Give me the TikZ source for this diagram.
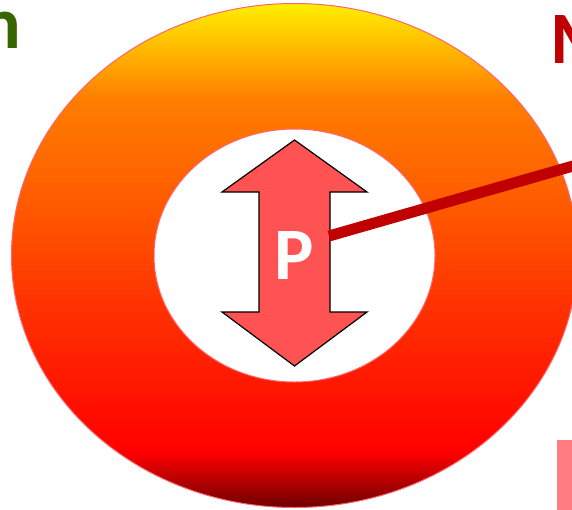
\documentclass[tikz,border=0pt]{standalone}
\usepackage{fontspec}
\setmainfont{Carlito}
\definecolor{ringyel}{RGB}{255,240,0}
\definecolor{ringgold}{RGB}{255,195,0}
\definecolor{ringor}{RGB}{255,125,0}
\definecolor{ringor2}{RGB}{255,92,0}
\definecolor{ringor3}{RGB}{255,52,0}
\definecolor{ringred}{RGB}{255,0,0}
\definecolor{ringdark}{RGB}{110,0,0}
\definecolor{ringline}{RGB}{255,100,110}
\definecolor{arrowfill}{RGB}{255,82,82}
\definecolor{darkred}{RGB}{192,0,0}
\definecolor{darkgreen}{RGB}{54,102,0}
\definecolor{pinkbox}{RGB}{255,124,128}
\pgfdeclareverticalshading{ringfill}{100bp}{color(0bp)=(ringdark); color(25bp)=(ringdark); color(30.5bp)=(ringred); color(45.6bp)=(ringor3); color(55.6bp)=(ringor2); color(65.5bp)=(ringor); color(71.4bp)=(ringgold); color(75bp)=(ringyel); color(100bp)=(ringyel)}
\begin{document}
\begin{tikzpicture}[x=1pt, y=-1pt, font=\fontsize{74}{74}\selectfont\bfseries]
  \def\cx{294.5}
  \useasboundingbox (0,0) rectangle (572,509);
  \path[shading=ringfill, shade, draw=ringline, line width=1pt] (\cx,255.5) ellipse (283 and 252);
  \filldraw[fill=white, draw=ringline, line width=1pt] (\cx,255.5) ellipse (140.5 and 126.5);
  \filldraw[fill=arrowfill, draw=black, line width=1.2pt]
    (\cx,140) -- (367,192) -- (330,192) -- (330,312) -- (367,312) -- (\cx,366)
    -- (222,312) -- (259,312) -- (259,192) -- (222,192) -- cycle;
  \node[text=white, inner sep=0pt] (plab) at (\cx,255.5) {P};
  \coordinate (shaftR) at (329,236);
  \coordinate (lineend) at (580,164);
  \draw[darkred, line width=11pt] (shaftR) -- (lineend);
  \node[anchor=base east, text=darkgreen, inner sep=0pt] (nlab) at (21,48) {n};
  \node[anchor=base west, text=darkred, inner sep=0pt] (mlab) at (550,63) {M};
  \fill[pinkbox] (557,440) rectangle (580,515);
\end{tikzpicture}
\end{document}
